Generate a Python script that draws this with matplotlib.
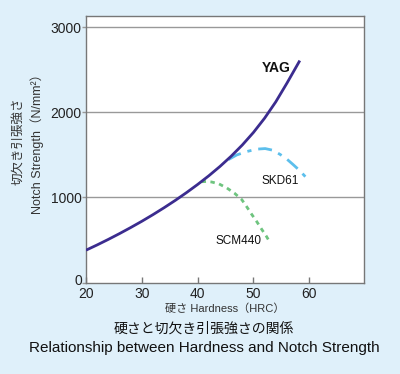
import matplotlib
matplotlib.use("Agg")
import matplotlib.pyplot as plt
from matplotlib.transforms import ScaledTranslation

plt.rcParams['font.family'] = ['Liberation Sans', 'Noto Sans CJK JP', 'DejaVu Sans']

# 硬さ(HRC) と 切欠き引張強さ(N/mm2)
yag_hrc = [20, 22, 24, 26, 28, 30, 32, 34, 36, 38, 40, 42, 44, 46, 48, 50, 52, 54, 56, 58.3]
yag_str = [380, 442, 507, 575, 646, 720, 798, 880, 966, 1057, 1153, 1255, 1365, 1485, 1617,
           1765, 1933, 2125, 2345, 2610]

skd_hrc = [45.5, 47, 48.8, 50.5, 52.1, 53.5, 54.8, 56, 57.1, 58.3, 59.5]
skd_str = [1445, 1500, 1540, 1568, 1575, 1555, 1505, 1450, 1387, 1315, 1230]

scm_hrc = [40.7, 41.5, 42.5, 43.8, 45.2, 46.6, 47.9, 48.8, 49.7, 50.6, 51.5, 52.3, 53.0]
scm_str = [1185, 1188, 1182, 1160, 1113, 1050, 975, 890, 800, 715, 623, 545, 466]

x_ticks = [20, 30, 40, 50, 60]
y_ticks = [0, 1000, 2000, 3000]

bg = '#dff0fa'
fig = plt.figure(figsize=(4, 3.74), dpi=100, facecolor=bg)
ax = fig.add_axes([86/400, 1-282.5/374, (364-86)/400, (282.5-15.5)/374])
ax.set_facecolor('white')

ax.set_xlim(20, 69.8)
ax.set_ylim(0, 3140)

for v in y_ticks[1:]:
    ax.axhline(v, color='#999999', lw=1.0, zorder=1)

ax.plot(yag_hrc, yag_str, color='#3b2c8f', lw=2.0, zorder=3, solid_capstyle='butt')
ax.plot(skd_hrc, skd_str, color='#5cbfec', lw=2.0, dashes=(5, 2.5, 1.5, 2.5), zorder=2)
ax.plot(scm_hrc, scm_str, color='#6ec47f', lw=2.0, dashes=(1.6, 1.6), zorder=2)

ax.text(54.0, 2520, 'YAG', fontsize=10, fontweight='bold', ha='center', va='center', color='#111111')
ax.text(54.8, 1195, 'SKD61', fontsize=8.5, ha='center', va='center', color='#111111')
ax.text(47.3, 490, 'SCM440', fontsize=8.5, ha='center', va='center', color='#111111')

ax.set_xticks(x_ticks)
ax.set_yticks(y_ticks)
ax.tick_params(axis='x', direction='in', length=4, width=1, color='#777777',
               labelsize=10, pad=3, labelcolor='#222222')
ax.tick_params(axis='y', direction='out', length=3, width=1, color='#999999',
               labelsize=10, pad=0, labelcolor='#222222')

# 0 のラベルを少し上へ
lbl0 = ax.get_yticklabels()[0]
lbl0.set_transform(lbl0.get_transform() + ScaledTranslation(0, 3/100, fig.dpi_scale_trans))

for s in ax.spines.values():
    s.set_color('#777777')
    s.set_linewidth(1.0)

ax.set_xlabel('硬さ Hardness（HRC）', fontsize=8, color='#333333', labelpad=2)
ax.set_ylabel('切欠き引張強さ\nNotch Strength（N/mm²）', fontsize=9, color='#333333',
              linespacing=1.45)
ax.yaxis.set_label_coords(-0.152, 0.53)

fig.text(0.51, 1-329/374, '硬さと切欠き引張強さの関係', fontsize=10, ha='center', va='center',
         color='#111111')
fig.text(0.51, 1-348/374, 'Relationship between Hardness and Notch Strength', fontsize=11,
         ha='center', va='center', color='#111111')

fig.savefig('out.png', dpi=100, facecolor=bg)
